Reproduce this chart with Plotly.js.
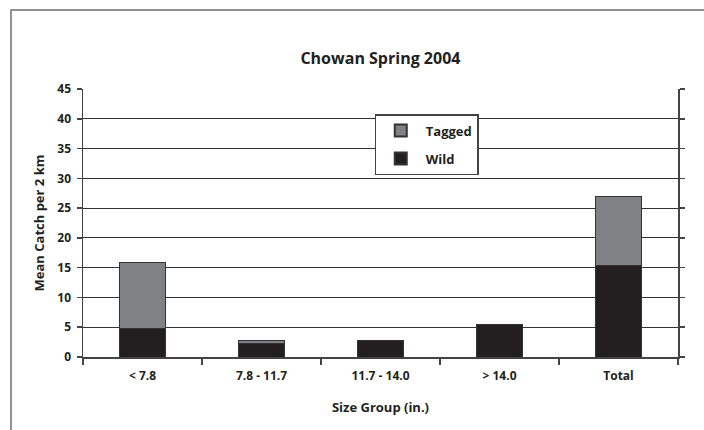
<!DOCTYPE html>
<html>
<head>
<meta charset="utf-8">
<script src="https://cdn.plot.ly/plotly-3.0.1.min.js"></script>
<style>html,body{margin:0;padding:0;background:#fff;}#chart{width:704px;height:430px;}</style>
</head>
<body>
<div id="chart"></div>
<script>
const categories = ["< 7.8", "7.8 - 11.7", "11.7 - 14.0", "> 14.0", "Total"];
const wild = [4.8, 2.3, 2.7, 5.5, 15.4];
const tagged = [11.0, 0.4, 0, 0, 11.5];
const yTicks = [0, 5, 10, 15, 20, 25, 30, 35, 40, 45];

const esc = s => s.replace(/&/g, "&amp;").replace(/</g, "&lt;").replace(/>/g, "&gt;");
const FONT = "Open Sans, DejaVu Sans, sans-serif";
const traces = [
  {type: "bar", name: "<b>Wild</b>", legendgroup: "w", legendrank: 2, x: categories, y: wild,
   marker: {color: "#231f20", line: {color: "#333333", width: 1}}},
  {type: "bar", name: "<b>Tagged</b>", legendgroup: "t", legendrank: 1, x: categories, y: tagged,
   marker: {color: "#808184", line: {color: "#333333", width: 1}}}
];

const layout = {
  width: 704, height: 430,
  margin: {l: 83, r: 26, t: 89, b: 73, pad: 0},
  paper_bgcolor: "#ffffff", plot_bgcolor: "#ffffff",
  barmode: "stack", bargap: 0.62,
  font: {family: FONT, color: "#231f20", size: 12},
  title: {text: "<b>Chowan Spring 2004</b>", font: {family: FONT, size: 16, color: "#231f20"},
          x: 0.5404, xanchor: "center", y: 0.865, yanchor: "middle"},
  xaxis: {
    type: "category", showline: true, linecolor: "#444444", linewidth: 1.5,
    ticks: "outside", tickson: "boundaries", ticklen: 6, tickcolor: "#444444", tickwidth: 1.5,
    tickvals: categories, ticktext: categories.map(c => "<b>" + esc(c) + "</b>"),
    ticklabelstandoff: 7,
    tickfont: {family: FONT, size: 12, color: "#231f20"},
    showgrid: false, zeroline: false,
    title: {text: "<b>Size Group (in.)</b>", font: {family: FONT, size: 13, color: "#231f20"}, standoff: 20}
  },
  yaxis: {
    range: [0, 45], tickvals: yTicks, ticktext: yTicks.map(v => "<b>" + v + "</b>"),
    showline: true, linecolor: "#444444", linewidth: 1.5, mirror: "ticks",
    ticks: "outside", ticklen: 5, tickcolor: "#444444", tickwidth: 1.5,
    ticklabelstandoff: 3,
    tickfont: {family: FONT, size: 12, color: "#231f20"},
    showgrid: true, gridcolor: "#333333", gridwidth: 1.2, zeroline: false,
    title: {text: "<b>Mean Catch per 2 km</b>", font: {family: FONT, size: 13, color: "#231f20"}, standoff: 10}
  },
  showlegend: true,
  legend: {
    x: 0.49, y: 0.905, xanchor: "left", yanchor: "top",
    bgcolor: "#ffffff", bordercolor: "#444444", borderwidth: 1.2,
    font: {family: FONT, size: 13, color: "#231f20"},
    traceorder: "grouped", itemsizing: "constant", tracegroupgap: 8,
    itemwidth: 40
  },
  shapes: [
    {type: "rect", xref: "paper", yref: "paper", x0: -0.121, x1: 1.3, y0: -0.5, y1: 1.2948,
     line: {color: "#6d6e71", width: 1.5}, fillcolor: "rgba(0,0,0,0)", layer: "below"}
  ]
};

Plotly.newPlot("chart", traces, layout, {displayModeBar: false, staticPlot: true});
</script>
</body>
</html>
